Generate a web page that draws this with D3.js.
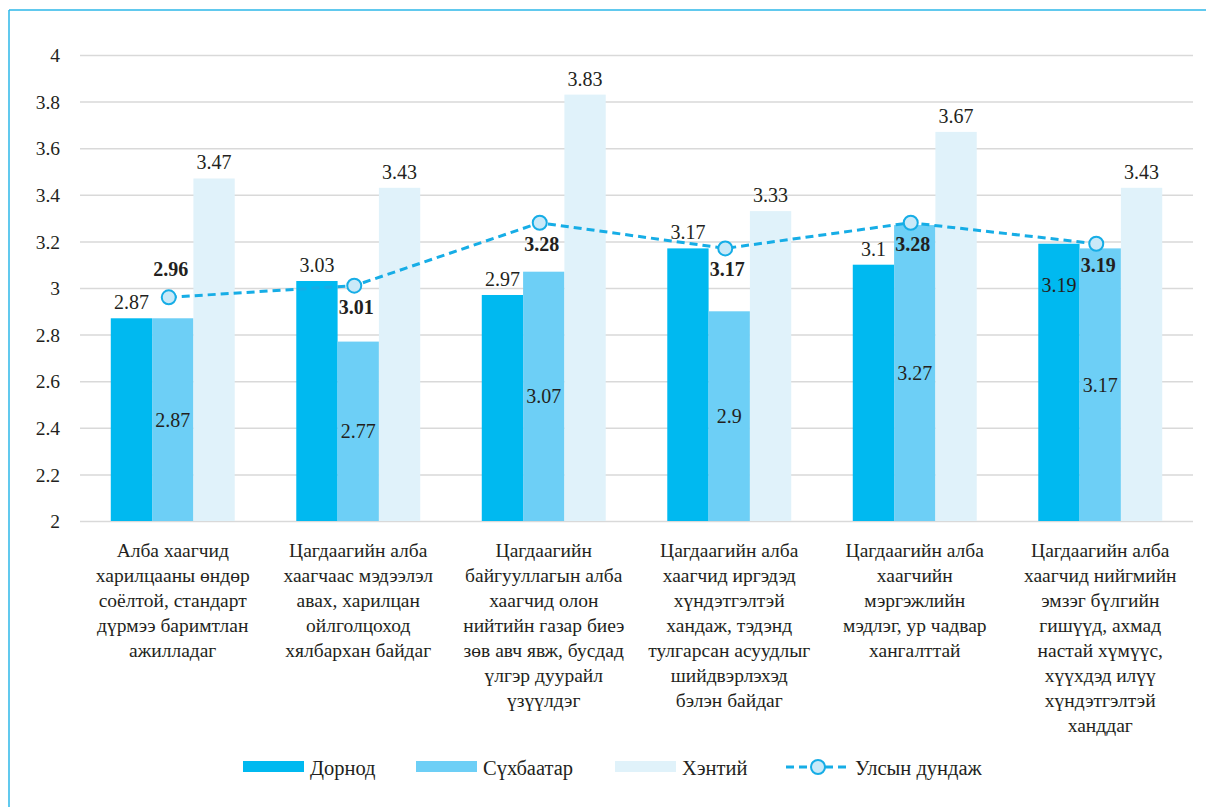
<!DOCTYPE html>
<html>
<head>
<meta charset="utf-8">
<script src="https://cdn.jsdelivr.net/npm/d3@7"></script>
<style>
  html, body { margin: 0; padding: 0; background: #fff; }
  svg { display: block; }
  svg text { font-family: "Liberation Serif", "Times New Roman", serif; fill: #231f20; }
</style>
</head>
<body>
<svg id="chart" width="1206" height="807"></svg>
<script>
// ---- data ----
const categories = [
  ["Алба хаагчид", "харилцааны өндөр", "соёлтой, стандарт", "дүрмээ баримтлан", "ажилладаг"],
  ["Цагдаагийн алба", "хаагчаас мэдээлэл", "авах, харилцан", "ойлголцоход", "хялбархан байдаг"],
  ["Цагдаагийн", "байгууллагын алба", "хаагчид олон", "нийтийн газар биеэ", "зөв авч явж, бусдад", "үлгэр дуурайл", "үзүүлдэг"],
  ["Цагдаагийн алба", "хаагчид иргэдэд", "хүндэтгэлтэй", "хандаж, тэдэнд", "тулгарсан асуудлыг", "шийдвэрлэхэд", "бэлэн байдаг"],
  ["Цагдаагийн алба", "хаагчийн", "мэргэжлийн", "мэдлэг, ур чадвар", "хангалттай"],
  ["Цагдаагийн алба", "хаагчид нийгмийн", "эмзэг бүлгийн", "гишүүд, ахмад", "настай хүмүүс,", "хүүхдэд илүү", "хүндэтгэлтэй", "ханддаг"]
];
const seriesNames = ["Дорнод", "Сүхбаатар", "Хэнтий"];
const dornod     = [2.87, 3.03, 2.97, 3.17, 3.10, 3.19];
const sukhbaatar = [2.87, 2.77, 3.07, 2.90, 3.27, 3.17];
const khentii    = [3.47, 3.43, 3.83, 3.33, 3.67, 3.43];
const lineName   = "Улсын дундаж";
const national   = [2.96, 3.01, 3.28, 3.17, 3.28, 3.19];
const yTicks     = [2, 2.2, 2.4, 2.6, 2.8, 3, 3.2, 3.4, 3.6, 3.8, 4];

// ---- styles ----
const colors = ["#00b9f0", "#6dcff6", "#e0f2fa"];
const lineColor = "#16ade6";
const markerFill = "#c9e9f8";
const frameColor = "#2cb7e9";
const FONT = '"Liberation Serif", "Times New Roman", serif';

const svg = d3.select("#chart").attr("font-family", FONT);
const mLeft = 80, mRight = 1193, mTop = 55, mBottom = 521;

const idx = d3.range(categories.length);
const x0 = d3.scaleBand().domain(idx).range([mLeft, mRight]).padding(0);
const x1 = d3.scaleBand().domain(d3.range(3)).range([0, x0.bandwidth()]).paddingInner(0).paddingOuter(0.745);
const y = d3.scaleLinear().domain([2, 4]).range([mBottom, mTop]);

// frame
svg.append("line").attr("x1", 9).attr("x2", 9).attr("y1", 10).attr("y2", 807)
  .attr("stroke", frameColor).attr("stroke-width", 1.5);
svg.append("line").attr("x1", 9).attr("x2", 1206).attr("y1", 10).attr("y2", 10)
  .attr("stroke", frameColor).attr("stroke-width", 1.5);

// y axis with grid
const yAxis = d3.axisLeft(y).tickValues(yTicks).tickSize(-(mRight - mLeft)).tickPadding(20)
  .tickFormat(d3.format("~g"));
const gy = svg.append("g").attr("transform", `translate(${mLeft},0)`).call(yAxis)
  .attr("font-family", FONT).attr("font-size", 19.5);
gy.select(".domain").remove();
gy.selectAll(".tick line").attr("stroke", "#d9d9d9").attr("stroke-width", 1.5);
gy.selectAll(".tick text").attr("fill", "#231f20").attr("dy", "0.34em");

// bars
const seriesData = [dornod, sukhbaatar, khentii];
seriesData.forEach((vals, s) => {
  svg.append("g").selectAll("rect").data(vals).join("rect")
    .attr("x", (d, i) => x0(i) + x1(s))
    .attr("y", d => y(d))
    .attr("width", x1.bandwidth())
    .attr("height", d => y(2) - y(d))
    .attr("fill", colors[s]);
});

// bar labels
const fmt = d => String(+d.toFixed(2));
seriesData.forEach((vals, s) => {
  svg.append("g").selectAll("text").data(vals).join("text")
    .attr("x", (d, i) => x0(i) + x1(s) + x1.bandwidth() / 2)
    .attr("y", (d, i) => {
      if (s === 1) return (y(d) + y(2)) / 2 + 7;
      if (s === 0 && i === 5) return y(d) + 48;
      return y(d) - 9;
    })
    .attr("text-anchor", "middle")
    .attr("font-size", 20)
    .text(d => fmt(d));
});

// national average line
const cx = i => x0(i) + x0.bandwidth() / 2 - 4;
const line = d3.line().x((d, i) => cx(i)).y(d => y(d));
svg.append("path").datum(national).attr("d", line)
  .attr("fill", "none").attr("stroke", lineColor).attr("stroke-width", 3)
  .attr("stroke-dasharray", "8,5");
svg.append("g").selectAll("circle").data(national).join("circle")
  .attr("cx", (d, i) => cx(i)).attr("cy", d => y(d)).attr("r", 7)
  .attr("fill", markerFill).attr("stroke", lineColor).attr("stroke-width", 2);
svg.append("g").selectAll("text").data(national).join("text")
  .attr("x", (d, i) => cx(i) + 2)
  .attr("y", (d, i) => i === 0 ? y(d) - 21 : y(d) + 28)
  .attr("text-anchor", "middle")
  .attr("font-size", 20).attr("font-weight", "bold")
  .text(d => fmt(d));

// category labels
const cat = svg.append("g").selectAll("text").data(categories).join("text")
  .attr("text-anchor", "middle")
  .attr("font-size", 19.5);
cat.each(function(lines, i) {
  d3.select(this).selectAll("tspan").data(lines).join("tspan")
    .attr("x", x0(i) + x0.bandwidth() / 2)
    .attr("y", (d, k) => 557 + k * 25)
    .text(d => d);
});

// legend
const legend = svg.append("g");
const legendX = [243, 416, 615];
seriesNames.forEach((n, s) => {
  legend.append("rect").attr("x", legendX[s]).attr("y", 761).attr("width", 61).attr("height", 11)
    .attr("fill", colors[s]);
  legend.append("text").attr("x", legendX[s] + 67).attr("y", 775).attr("font-size", 20.5).text(n);
});
legend.append("line").attr("x1", 786).attr("x2", 848).attr("y1", 767).attr("y2", 767)
  .attr("stroke", lineColor).attr("stroke-width", 3).attr("stroke-dasharray", "8,5");
legend.append("circle").attr("cx", 818).attr("cy", 767).attr("r", 7)
  .attr("fill", markerFill).attr("stroke", lineColor).attr("stroke-width", 2);
legend.append("text").attr("x", 855).attr("y", 775).attr("font-size", 20.5).text(lineName);
</script>
</body>
</html>
